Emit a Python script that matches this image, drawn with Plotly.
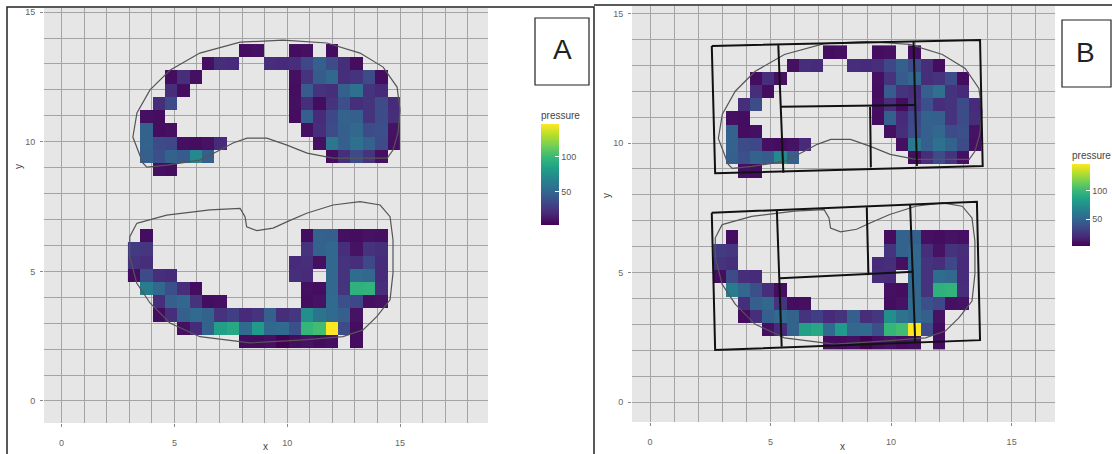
import plotly.graph_objects as go

W, H = 1112, 454
N = None

# ---------------- data: pressure tiles (viridis) ----------------
# lower foot: grid rows 0..8 (bottom -> top), grid cols 0..20
lower_foot = [
    [N, N, N, N, N, N, N, N, N, 8, 7, 9, 3, 8, 10, 7, 9, N, 8, N, N],
    [N, N, N, N, 9, 20, 48, 84, 88, 52, 80, 50, 52, 38, 98, 102, 146, 36, 8, N, N],
    [N, N, 8, 22, 46, 52, 48, 24, 30, 20, 24, 46, 22, 26, 74, 58, 52, 46, 10, N, N],
    [N, N, 22, 46, 50, 24, 8, 9, N, N, N, N, N, N, 8, 10, 52, 38, 34, 9, 10],
    [N, 62, 50, 38, 22, 8, N, N, N, N, N, N, N, N, 9, 8, 50, 24, 94, 96, 22],
    [8, 36, 22, 20, N, N, N, N, N, N, N, N, N, 22, 20, N, 50, 24, 54, 50, 20],
    [24, 22, N, N, N, N, N, N, N, N, N, N, N, 20, 22, 9, 50, 24, 22, 34, 20],
    [28, 26, N, N, N, N, N, N, N, N, N, N, N, N, 24, 48, 50, 22, 10, 24, 22],
    [N, 8, N, N, N, N, N, N, N, N, N, N, N, N, 8, 48, 46, 9, 8, 10, 9],
]
# upper foot: grid rows 13..22 (bottom -> top), grid cols 1..21
upper_foot = [
    [N, 9, 8, N, N, N, N, N, N, N, N, N, N, N, N, N, N, N, N, N, N],
    [46, 38, 48, 44, 70, 46, N, N, N, N, N, N, N, N, N, 8, 22, 36, 24, 9, N],
    [48, 36, 34, 9, 8, 10, 20, N, N, N, N, N, N, N, 9, 60, 46, 56, 48, 36, 9],
    [48, 8, 9, N, N, N, N, N, N, N, N, N, N, 9, 22, 36, 46, 50, 36, 38, 10],
    [9, 8, N, N, N, N, N, N, N, N, N, N, 8, 46, 20, 34, 48, 46, 24, 36, 22],
    [N, 22, 36, N, N, N, N, N, N, N, N, N, 9, 22, 8, 24, 38, 22, 24, 36, 20],
    [N, N, 22, 8, N, N, N, N, N, N, N, N, 8, 44, 24, 22, 46, 56, 24, 20, N],
    [N, N, 8, 22, 9, N, N, N, N, N, N, N, 9, 24, 44, 50, 22, 24, 36, 8, N],
    [N, N, N, N, N, 9, 22, 20, N, N, 22, 20, 22, 34, 46, 36, 22, 8, N, N, N],
    [N, N, N, N, N, N, N, N, 8, 9, N, N, 8, 9, N, 8, N, N, N, N, N],
]
upper_first_row = 13
upper_first_col = 1
n_cols, n_rows = 22, 23

# tile grid geometry (column units -> x per panel, rows -> y)
col_origin_A, col_step_A = 2.94, 0.547
col_origin_B, col_step_B = 2.63, 0.505
row_origin, row_step = 2.04, 0.51

# foot outlines (u = column units, y = data)
upper_outline_u = [1.21, 0.40, 0.73, 1.79, 3.40, 5.83, 9.09, 12.56, 16.12, 18.81, 20.68, 21.81,
                   22.05, 21.88, 21.48, 21.01, 16.62, 14.52, 12.89, 11.26, 9.65, 8.52, 7.46,
                   5.83, 3.16, 1.54, 1.21]
upper_outline_y = [9.18, 10.18, 11.11, 12.00, 12.76, 13.42, 13.84, 13.92, 13.81, 13.42, 12.88, 12.11,
                   11.22, 10.34, 9.68, 9.37, 9.37, 9.56, 9.87, 10.14, 10.14, 9.95, 9.68,
                   9.29, 9.10, 9.02, 9.18]
lower_outline_u = [0.71, 3.14, 6.65, 9.09, 9.49, 9.62, 10.44, 11.76, 12.87, 14.48, 16.62, 18.81,
                   20.44, 21.24, 21.48, 21.48, 21.24, 20.16, 19.05, 17.42, 13.95, 9.89, 5.83,
                   3.40, 1.79, 0.71, 0.15, 0.15, 0.71]
lower_outline_y = [6.85, 7.17, 7.37, 7.43, 7.11, 6.72, 6.57, 6.67, 6.91, 7.24, 7.56, 7.69,
                   7.56, 7.11, 6.21, 4.94, 3.90, 3.25, 2.74, 2.48, 2.35, 2.24, 2.48,
                   3.01, 3.78, 4.55, 5.57, 6.34, 6.85]

# hand-drawn region boxes on panel B (data coords of panel B)
regions_B = [
    [(2.56, 13.75), (13.69, 13.98), (13.80, 9.11), (2.70, 8.83), (2.56, 13.75)],
    [(5.32, 13.78), (5.53, 8.85)],
    [(10.93, 13.91), (11.07, 9.11)],
    [(9.13, 11.40), (9.16, 9.06)],
    [(5.39, 11.40), (11.00, 11.47)],
    [(2.56, 7.31), (13.56, 7.73), (13.69, 2.39), (2.70, 2.01), (2.56, 7.31)],
    [(5.26, 7.41), (5.46, 2.14)],
    [(10.79, 7.61), (11.00, 2.33)],
    [(8.99, 7.52), (9.06, 4.90)],
    [(5.39, 4.78), (10.93, 5.03)],
]

x_ticks = [0, 5, 10, 15]
y_ticks = [0, 5, 10, 15]
cbar_ticks = [50, 100]

# ---------------- assemble grid ----------------
z = [[None] * n_cols for _ in range(n_rows)]
for r, row in enumerate(lower_foot):
    for c, v in enumerate(row):
        z[r][c] = v
for r, row in enumerate(upper_foot):
    for c, v in enumerate(row):
        z[upper_first_row + r][upper_first_col + c] = v
vals = [v for row in z for v in row if v is not None]
zmin, zmax = min(vals), max(vals)

y_centers = [row_origin + row_step * (k + 0.5) for k in range(n_rows)]


def px_x(p):
    return p / W


def px_y(p):
    return 1 - p / H


FONT = "Liberation Sans, Arial, sans-serif"
fig = go.Figure()

panels = [
    dict(name="A", xa="x", ya="y", origin=col_origin_A, step=col_step_A,
         cb=dict(x=px_x(541), y=px_y(166.5), len=117 / H)),
    dict(name="B", xa="x2", ya="y2", origin=col_origin_B, step=col_step_B,
         cb=dict(x=px_x(1072), y=px_y(197), len=98 / H)),
]

for p in panels:
    xc = [p["origin"] + p["step"] * (i + 0.5) for i in range(n_cols)]
    fig.add_trace(go.Heatmap(
        x=xc, y=y_centers, z=z, xaxis=p["xa"], yaxis=p["ya"],
        colorscale="Viridis", zmin=zmin, zmax=zmax, hoverongaps=False,
        colorbar=dict(x=p["cb"]["x"], xanchor="left", y=p["cb"]["y"], yanchor="middle",
                      len=p["cb"]["len"], lenmode="fraction", thickness=18,
                      outlinewidth=0, tickvals=cbar_ticks, ticks="inside",
                      tickcolor="white", ticklen=4, xpad=0, ypad=0,
                      tickfont=dict(size=9, color="#555", family=FONT),
                      title=dict(text="pressure", side="top",
                                 font=dict(size=10, color="#444", family=FONT))),
    ))
    for ou, oy in [(upper_outline_u, upper_outline_y), (lower_outline_u, lower_outline_y)]:
        fig.add_trace(go.Scatter(
            x=[p["origin"] + p["step"] * u for u in ou], y=oy, xaxis=p["xa"], yaxis=p["ya"],
            mode="lines", line=dict(color="#555555", width=1.2), showlegend=False,
            hoverinfo="skip"))

# region boxes on B
bx, by = [], []
for seg in regions_B:
    for (a, b) in seg:
        bx.append(a)
        by.append(b)
    bx.append(None)
    by.append(None)
fig.add_trace(go.Scatter(x=bx, y=by, xaxis="x2", yaxis="y2", mode="lines",
                         line=dict(color="#111111", width=2), showlegend=False,
                         hoverinfo="skip"))

GRID = "#a4a4a4"
axis_common = dict(
    tickmode="linear", tick0=0, dtick=5, showgrid=True, gridcolor=GRID, gridwidth=1,
    minor=dict(dtick=1, tick0=0, showgrid=True, gridcolor=GRID, gridwidth=1),
    ticks="outside", ticklen=3, tickcolor="#888", zeroline=False, showline=False,
    tickfont=dict(size=9, color="#666", family=FONT),
)

fig.update_layout(
    width=W, height=H, margin=dict(l=0, r=0, t=0, b=0),
    paper_bgcolor="white", plot_bgcolor="#e6e6e6", showlegend=False,
    xaxis=dict(domain=[px_x(44), px_x(488)], range=[-0.78, 18.9], anchor="y",
               ticklabelstandoff=8, **axis_common),
    yaxis=dict(domain=[px_y(423), px_y(8)], range=[-0.85, 15.16], anchor="x",
               ticklabelstandoff=3, **axis_common),
    xaxis2=dict(domain=[px_x(632), px_x(1055)], range=[-0.75, 16.8], anchor="y2",
                ticklabelstandoff=8, **axis_common),
    yaxis2=dict(domain=[px_y(422), px_y(6)], range=[-0.77, 15.29], anchor="x2",
                ticklabelstandoff=3, **axis_common),
)

shapes = [
    # outer frames of the two panels
    dict(type="rect", xref="paper", yref="paper", x0=px_x(7), x1=px_x(594),
         y0=px_y(470), y1=px_y(7), line=dict(color="#222", width=1.5)),
    dict(type="line", xref="paper", yref="paper", x0=px_x(594), x1=px_x(1112),
         y0=px_y(5), y1=px_y(5), line=dict(color="#222", width=1.5)),
    # label boxes
    dict(type="rect", xref="paper", yref="paper", x0=px_x(535), x1=px_x(589),
         y0=px_y(85), y1=px_y(18), line=dict(color="#222", width=1.2)),
    dict(type="rect", xref="paper", yref="paper", x0=px_x(1062), x1=px_x(1111),
         y0=px_y(87), y1=px_y(20), line=dict(color="#222", width=1.2)),
]


def label(text, x, y, size, angle=0):
    return dict(text=text, x=px_x(x), y=px_y(y), xref="paper", yref="paper",
                xanchor="center", yanchor="middle", showarrow=False, textangle=angle,
                font=dict(size=size, color="#222" if size > 20 else "#444", family=FONT))


annotations = [
    label("A", 562, 50, 28),
    label("B", 1085, 52, 28),
    label("y", 18, 167, 10, -90),
    label("y", 606, 196, 10, -90),
    label("x", 265, 446, 10),
    label("x", 842, 446, 10),
]
fig.update_layout(shapes=shapes, annotations=annotations)

fig.write_html("out.html")
